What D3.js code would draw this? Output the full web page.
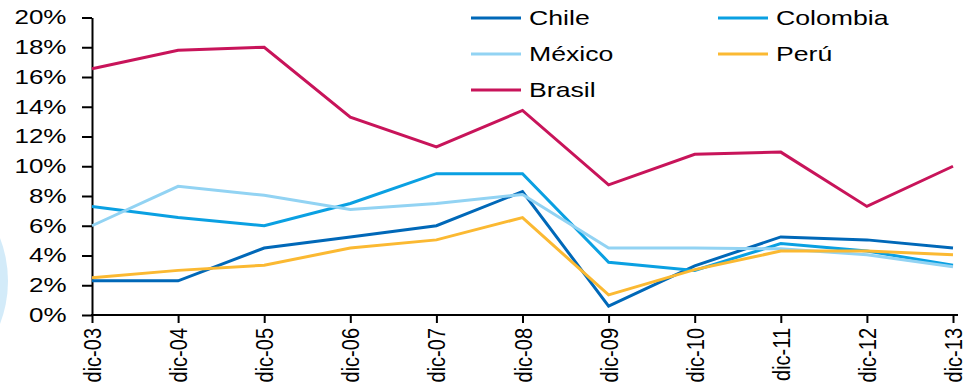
<!DOCTYPE html>
<html><head><meta charset="utf-8">
<script src="https://cdn.jsdelivr.net/npm/d3@7"></script>
<style>body{margin:0;background:#fff}svg{display:block}text{font-family:"Liberation Sans",Arial,sans-serif}</style>
</head><body>
<svg id="c" width="966" height="389"></svg>
<script>
const categories = ["dic-03","dic-04","dic-05","dic-06","dic-07","dic-08","dic-09","dic-10","dic-11","dic-12","dic-13"];
const chile    = [2.3, 2.3, 4.5, 5.25, 6.0, 8.3, 0.6, 3.3, 5.25, 5.05, 4.5];
const colombia = [7.3, 6.55, 6.0, 7.5, 9.5, 9.5, 3.55, 3.0, 4.8, 4.3, 3.35];
const mexico   = [6.0, 8.65, 8.05, 7.1, 7.5, 8.1, 4.5, 4.5, 4.45, 4.05, 3.25];
const peru     = [2.5, 3.0, 3.35, 4.5, 5.05, 6.55, 1.35, 3.05, 4.3, 4.3, 4.05];
const brasil   = [16.55, 17.8, 18.0, 13.3, 11.3, 13.75, 8.75, 10.8, 10.95, 7.3, 10.0];
const yTicks = [0, 2, 4, 6, 8, 10, 12, 14, 16, 18, 20];
const seriesNames = ["Chile","Colombia","México","Perú","Brasil"];
const seriesValues = [chile, colombia, mexico, peru, brasil];
const seriesColors = ["#0068b8","#0aa0e2","#92d3f3","#fbb932","#c8145a"];

const FONT = '"Liberation Sans",Arial,sans-serif';
const SX = 1.3;
const svg = d3.select("#c");
// decorative circle at left edge
svg.append("circle").attr("cx",-111).attr("cy",281).attr("r",119).attr("fill","#d3ebf9");

const x = d3.scalePoint().domain(categories).range([92, 953]);
const y = d3.scaleLinear().domain([0, 20]).range([315, 17.5]);

const yAxis = svg.append("g").attr("transform","translate(92,0)")
  .call(d3.axisLeft(y).tickValues(yTicks).tickFormat(d => d + "%").tickSize(10).tickSizeOuter(0));
yAxis.select(".domain").attr("stroke","#000").attr("stroke-width",2);
yAxis.selectAll(".tick line").attr("stroke","#000").attr("stroke-width",2);
yAxis.selectAll(".tick text").attr("x",0).attr("font-size",20).attr("fill","#000")
  .attr("font-family",FONT).attr("transform",`translate(-25.5,0) scale(${SX},1)`);

const xAxis = svg.append("g").attr("transform","translate(0,315)")
  .call(d3.axisBottom(x).tickSize(8).tickSizeOuter(0));
xAxis.select(".domain").attr("stroke","#000").attr("stroke-width",2).attr("d","M91,0H958");
xAxis.selectAll(".tick line").attr("stroke","#000").attr("stroke-width",2);
xAxis.selectAll(".tick text").attr("font-size",20).attr("fill","#000")
  .attr("font-family",FONT)
  .attr("transform",`translate(0,13) scale(1.22,1) rotate(-90)`).attr("text-anchor","end")
  .attr("x",0).attr("y",0).attr("dy","0.35em");

const line = d3.line().x((d,i) => x(categories[i])).y(d => y(d));
seriesValues.forEach((vals, k) => {
  svg.append("path").datum(vals).attr("d", line).attr("fill","none")
    .attr("stroke", seriesColors[k]).attr("stroke-width",3).attr("stroke-linejoin","miter");
});

// legend
const legPos = [[471,18],[718,18],[471,54],[718,54],[471,90]];
seriesNames.forEach((n, k) => {
  const [lx, ly] = legPos[k];
  svg.append("line").attr("x1",lx).attr("x2",lx+50).attr("y1",ly).attr("y2",ly)
    .attr("stroke",seriesColors[k]).attr("stroke-width",3);
  svg.append("text").attr("transform",`translate(${lx+58},${ly}) scale(${SX},1)`)
    .attr("dy","0.35em").attr("font-size",20.5).attr("fill","#000").text(n);
});
</script>
</body></html>
